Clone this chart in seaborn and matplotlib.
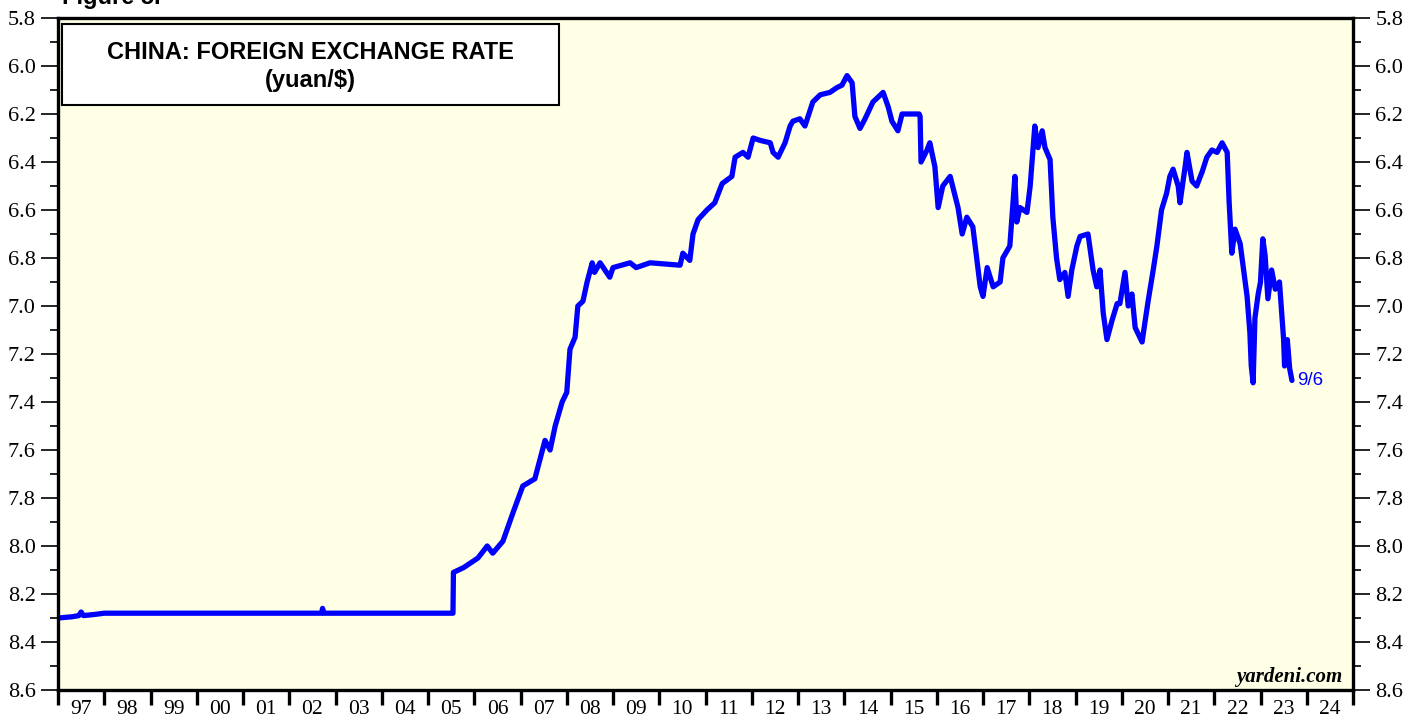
"""
Yuan/dólar: recreación del gráfico de Yardeni (escala invertida).
"""

import matplotlib
matplotlib.use("Agg")
import matplotlib.pyplot as plt
import matplotlib.patches as mpatches
import numpy as np
import pandas as pd
import seaborn as sns

# =========================
# Datos
# =========================

# año decimal
anio = [
    1997.00, 1997.30, 1997.45, 1997.50, 1997.55, 1997.80, 1998.00, 1999.00,
    2000.00, 2001.00, 2002.00, 2002.70, 2002.72, 2002.75, 2003.50, 2004.50,
    2005.54, 2005.55, 2005.77, 2006.08, 2006.28, 2006.40, 2006.62, 2006.84,
    2007.05, 2007.31, 2007.53, 2007.64, 2007.75, 2007.90, 2008.00, 2008.07,
    2008.18, 2008.24, 2008.35, 2008.44, 2008.55, 2008.60, 2008.72, 2008.93,
    2009.00, 2009.37, 2009.50, 2009.80, 2010.45, 2010.51, 2010.66, 2010.73,
    2010.84, 2011.03, 2011.20, 2011.36, 2011.57, 2011.64, 2011.81, 2011.92,
    2012.03, 2012.18, 2012.40, 2012.46, 2012.57, 2012.72, 2012.83, 2012.89,
    2013.04, 2013.15, 2013.32, 2013.48, 2013.69, 2013.84, 2013.95, 2014.06,
    2014.17, 2014.23, 2014.34, 2014.45, 2014.62, 2014.84, 2014.95, 2015.03,
    2015.16, 2015.25, 2015.62, 2015.64, 2015.66, 2015.79, 2015.85, 2015.96,
    2016.03, 2016.13, 2016.29, 2016.46, 2016.55, 2016.65, 2016.78, 2016.94,
    2017.00, 2017.09, 2017.22, 2017.37, 2017.43, 2017.58, 2017.69, 2017.73,
    2017.80, 2017.95, 2018.02, 2018.12, 2018.19, 2018.28, 2018.34, 2018.45,
    2018.51, 2018.59, 2018.66, 2018.77, 2018.84, 2018.92, 2019.03, 2019.10,
    2019.27, 2019.38, 2019.46, 2019.53, 2019.60, 2019.68, 2019.79, 2019.90,
    2019.96, 2020.07, 2020.14, 2020.22, 2020.29, 2020.44, 2020.50, 2020.57,
    2020.68, 2020.76, 2020.86, 2020.97, 2021.04, 2021.11, 2021.22, 2021.26,
    2021.37, 2021.41, 2021.52, 2021.62, 2021.74, 2021.84, 2021.95, 2022.06,
    2022.17, 2022.28, 2022.32, 2022.38, 2022.45, 2022.56, 2022.71, 2022.77,
    2022.80, 2022.84, 2022.88, 2022.95, 2023.00, 2023.05, 2023.10, 2023.16,
    2023.24, 2023.32, 2023.41, 2023.50, 2023.52, 2023.58, 2023.63, 2023.68,
]

# yuan por dólar
tipo = [
    8.30, 8.295, 8.29, 8.275, 8.29, 8.285, 8.28, 8.28,
    8.28, 8.28, 8.28, 8.28, 8.26, 8.28, 8.28, 8.28,
    8.28, 8.11, 8.09, 8.05, 8.00, 8.03, 7.98, 7.86,
    7.75, 7.72, 7.56, 7.60, 7.50, 7.40, 7.36, 7.18,
    7.13, 7.00, 6.98, 6.90, 6.82, 6.86, 6.82, 6.88,
    6.84, 6.82, 6.84, 6.82, 6.83, 6.78, 6.81, 6.70,
    6.64, 6.60, 6.57, 6.49, 6.46, 6.38, 6.36, 6.38,
    6.30, 6.31, 6.32, 6.36, 6.38, 6.32, 6.25, 6.23,
    6.22, 6.25, 6.15, 6.12, 6.11, 6.09, 6.08, 6.04,
    6.07, 6.21, 6.26, 6.22, 6.15, 6.11, 6.17, 6.23,
    6.27, 6.20, 6.20, 6.21, 6.40, 6.35, 6.32, 6.42,
    6.59, 6.50, 6.46, 6.59, 6.70, 6.63, 6.67, 6.92,
    6.96, 6.84, 6.92, 6.90, 6.80, 6.75, 6.46, 6.65,
    6.59, 6.61, 6.50, 6.25, 6.34, 6.27, 6.34, 6.39,
    6.63, 6.80, 6.89, 6.86, 6.96, 6.85, 6.75, 6.71,
    6.70, 6.85, 6.92, 6.85, 7.03, 7.14, 7.06, 6.99,
    6.99, 6.86, 7.00, 6.95, 7.09, 7.15, 7.07, 6.98,
    6.85, 6.75, 6.60, 6.53, 6.46, 6.43, 6.50, 6.57,
    6.42, 6.36, 6.48, 6.50, 6.44, 6.38, 6.35, 6.36,
    6.32, 6.36, 6.56, 6.78, 6.68, 6.74, 6.96, 7.11,
    7.25, 7.32, 7.05, 6.95, 6.90, 6.72, 6.79, 6.97,
    6.85, 6.93, 6.90, 7.14, 7.25, 7.14, 7.26, 7.31,
]

anios_etiqueta = ["97", "98", "99", "00", "01", "02", "03", "04", "05", "06",
                  "07", "08", "09", "10", "11", "12", "13", "14", "15", "16",
                  "17", "18", "19", "20", "21", "22", "23", "24"]

df = pd.DataFrame({"anio": anio, "tipo": tipo})

# =========================
# Estilo
# =========================
sns.set_style("ticks")
plt.rcParams["font.family"] = ["Liberation Serif", "DejaVu Serif"]
plt.rcParams["text.color"] = "black"
plt.rcParams["xtick.color"] = "black"
plt.rcParams["ytick.color"] = "black"

fig = plt.figure(figsize=(14.19, 7.21), dpi=100)
ax = fig.add_axes([58 / 1419, 1 - 690 / 721, 1295 / 1419, 672 / 721])
ax.set_facecolor("#FFFFE6")

sns.lineplot(data=df, x="anio", y="tipo", ax=ax, color="#0000FF",
             linewidth=3.8, estimator=None, sort=False)

ax.set_xlim(1997, 2025)
ax.set_ylim(8.6, 5.8)
ax.set_xlabel("")
ax.set_ylabel("")

for s in ax.spines.values():
    s.set_linewidth(2.4)
    s.set_color("black")

# eje x: marcas en cada año, etiquetas centradas
ax.set_xticks(np.arange(1997, 2026))
ax.set_xticklabels([])
ax.set_xticks(np.arange(1997.5, 2025), minor=True)
ax.set_xticklabels(anios_etiqueta, minor=True, fontsize=15.5)
ax.tick_params(axis="x", which="major", direction="out", length=11, width=2.4,
               bottom=True, top=False, color="black")
ax.tick_params(axis="x", which="minor", length=0, pad=7, labelcolor="black")

# eje y a ambos lados
ax.set_yticks(np.round(np.arange(5.8, 8.61, 0.2), 1))
ax.set_yticks(np.round(np.arange(5.9, 8.6, 0.2), 1), minor=True)
ax.yaxis.set_major_formatter(matplotlib.ticker.FormatStrFormatter("%.1f"))
ax.tick_params(axis="y", which="both", direction="out", left=True, right=True,
               labelleft=True, labelright=True, width=1.2, color="black",
               labelcolor="black")
ax.tick_params(axis="y", which="major", length=12, labelsize=16, pad=4)
ax.tick_params(axis="y", which="minor", length=6)

# caja del título
ax.add_patch(mpatches.Rectangle((0.003, 0.8705), 0.384, 0.1205,
                                transform=ax.transAxes, facecolor="white",
                                edgecolor="black", linewidth=1.5, zorder=5))
ax.text(0.195, 0.949, "CHINA: FOREIGN EXCHANGE RATE", transform=ax.transAxes,
        ha="center", va="center", fontsize=17, fontweight="bold",
        color="black", family=["Liberation Sans", "DejaVu Sans"], zorder=6)
ax.text(0.195, 0.907, "(yuan/$)", transform=ax.transAxes,
        ha="center", va="center", fontsize=17, fontweight="bold",
        color="black", family=["Liberation Sans", "DejaVu Sans"], zorder=6)

# etiqueta del último dato
ax.annotate("9/6", xy=(anio[-1], tipo[-1]), xytext=(4, 0),
            textcoords="offset points", ha="left", va="center",
            color="#0000FF", fontsize=13.5,
            family=["Liberation Sans", "DejaVu Sans"])

ax.text(0.992, 0.012, "yardeni.com", transform=ax.transAxes, ha="right",
        va="baseline", fontsize=15, fontweight="bold", fontstyle="italic",
        color="black")

# el título de la figura queda cortado arriba, como en el original
fig.text(0.044, 1 - 4 / 721, "Figure 5.", ha="left", va="baseline",
         fontsize=17, fontweight="bold", color="black",
         family=["Liberation Sans", "DejaVu Sans"])

fig.savefig("out.png", dpi=100, facecolor="white")
